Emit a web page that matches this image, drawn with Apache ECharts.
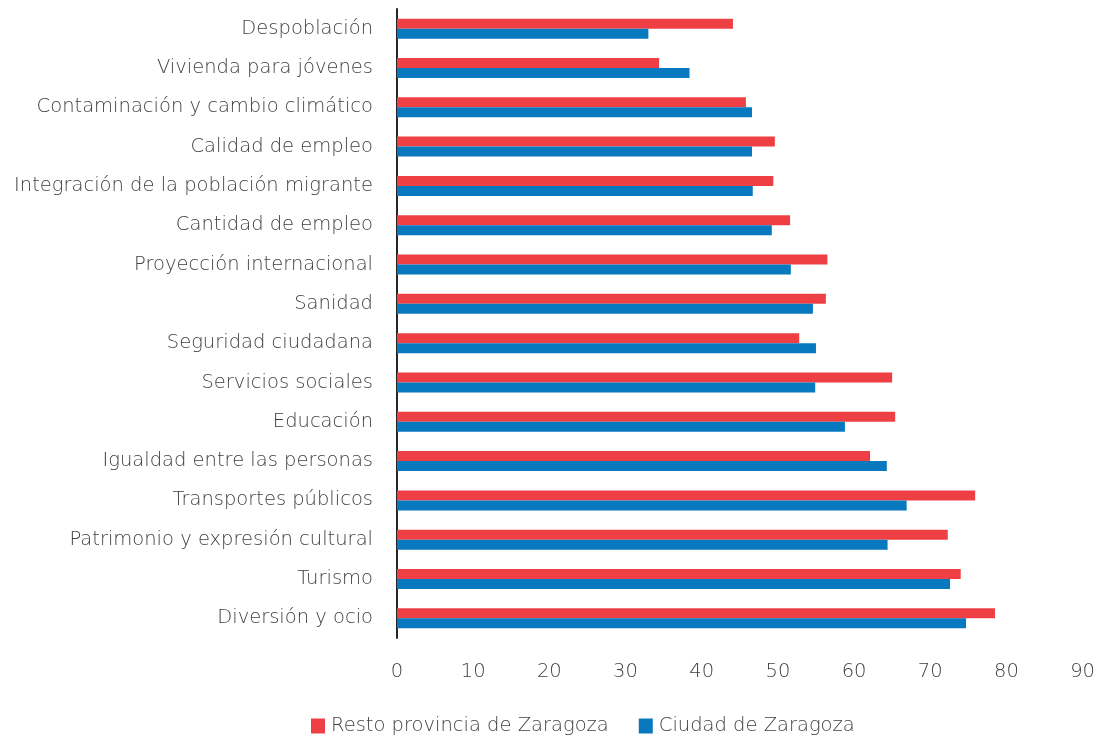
<!DOCTYPE html>
<html><head><meta charset="utf-8">
<script src="https://cdn.jsdelivr.net/npm/echarts@6/dist/echarts.min.js"></script>
<style>html,body{margin:0;padding:0;background:#fff}#c{width:1098px;height:737px}</style>
</head><body><div id="c"></div>
<script>
const categories = ["Despoblación","Vivienda para jóvenes","Contaminación y cambio climático","Calidad de empleo","Integración de la población migrante","Cantidad de empleo","Proyección internacional","Sanidad","Seguridad ciudadana","Servicios sociales","Educación","Igualdad entre las personas","Transportes públicos","Patrimonio y expresión cultural","Turismo","Diversión y ocio"];
const resto = [44.1,34.4,45.8,49.6,49.4,51.6,56.5,56.3,52.8,65.0,65.4,62.1,75.9,72.3,74.0,78.5];
const ciudad = [33.0,38.4,46.6,46.6,46.7,49.2,51.7,54.6,55.0,54.9,58.8,64.3,66.9,64.4,72.6,74.7];
const seriesNames = ["Resto provincia de Zaragoza","Ciudad de Zaragoza"];
const FONT = "'DejaVu Sans', sans-serif";
const TXT = '#404040';
const FS = 19.5;
const FW = 200;
const chart = echarts.init(document.getElementById('c'));
chart.setOption({
  animation:false,
  textStyle:{fontFamily:FONT},
  grid:{left:397,right:15,top:9,bottom:99,containLabel:false},
  legend:{left:306,top:711,icon:'rect',itemWidth:14,itemHeight:15,itemGap:30,
    textStyle:{fontFamily:FONT,fontSize:FS,fontWeight:FW,color:TXT,padding:[0,0,0,1]},
    data:seriesNames},
  xAxis:{type:'value',min:0,max:90,interval:10,
    axisLine:{show:false},axisTick:{show:false},splitLine:{show:false},
    axisLabel:{margin:24,fontSize:FS,fontWeight:FW,color:TXT,fontFamily:FONT}},
  yAxis:{type:'category',data:categories,inverse:true,
    axisLine:{show:true,lineStyle:{color:'#262626',width:2}},axisTick:{show:false},
    axisLabel:{margin:24,fontSize:FS,fontWeight:FW,color:TXT,fontFamily:FONT}},
  series:[
    {name:seriesNames[0],type:'bar',data:resto,barWidth:10,barGap:'0%',itemStyle:{color:'#EE4044'}},
    {name:seriesNames[1],type:'bar',data:ciudad,barWidth:10,barGap:'0%',itemStyle:{color:'#0878BF'}}
  ]
});
</script></body></html>
